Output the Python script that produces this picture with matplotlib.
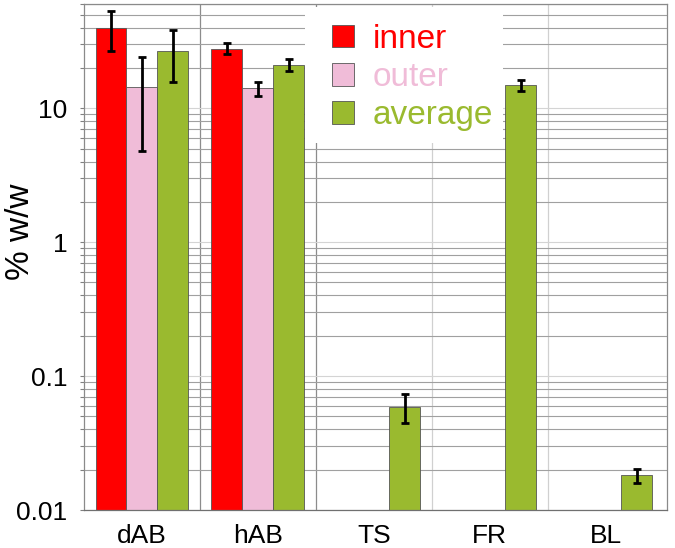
import numpy as np
import matplotlib
matplotlib.use('Agg')
import matplotlib.pyplot as plt
from matplotlib.patches import Rectangle
from matplotlib.ticker import LogLocator, FixedLocator, NullFormatter, FixedFormatter

# values (% w/w, log axis)
categories = ['dAB', 'hAB', 'TS', 'FR', 'BL']

inner = [39.8, 27.9, np.nan, np.nan, np.nan]
inner_lo = [26.6, 25.3, np.nan, np.nan, np.nan]
inner_hi = [53.5, 30.8, np.nan, np.nan, np.nan]

outer = [14.4, 14.1, np.nan, np.nan, np.nan]
outer_lo = [4.8, 12.4, np.nan, np.nan, np.nan]
outer_hi = [24.3, 15.7, np.nan, np.nan, np.nan]

average = [26.9, 21.0, 0.059, 14.8, 0.0181]
average_lo = [15.7, 18.8, 0.0448, 13.5, 0.0158]
average_hi = [38.7, 23.2, 0.0738, 16.3, 0.0201]

yticks = [0.01, 0.1, 1, 10]
ytick_labels = ['0.01', '0.1', '1', '10']

plt.rcParams['font.family'] = ['Liberation Sans', 'DejaVu Sans']

fig = plt.figure(figsize=(6.75, 5.48), dpi=100)
ax = fig.add_axes([84 / 675, 1 - 510 / 548, (667 - 84) / 675, (510 - 4) / 548])
ax.set_yscale('log')
ax.set_axisbelow(True)

x = np.arange(len(categories))
w = 0.267
series = [
    ('inner', inner, inner_lo, inner_hi, '#ff0000', -w),
    ('outer', outer, outer_lo, outer_hi, '#f0bcd8', 0.0),
    ('average', average, average_lo, average_hi, '#9aba2f', w),
]

handles = []
for name, vals, lo, hi, col, off in series:
    vals = np.array(vals)
    lo = np.array(lo)
    hi = np.array(hi)
    m = ~np.isnan(vals)
    b = ax.bar(x[m] + off, vals[m], width=w, color=col, edgecolor='#555555',
               linewidth=0.6, label=name, zorder=2)
    yerr = np.vstack([vals[m] - lo[m], hi[m] - vals[m]])
    ax.errorbar(x[m] + off, vals[m], yerr=yerr, fmt='none', ecolor='black',
                elinewidth=2.0, capsize=3, capthick=2.0, zorder=3)
    handles.append(b)

ax.set_ylim(0.01, 60)
ax.set_xlim(-0.5, 4.53)

# horizontal grid
ax.yaxis.set_major_locator(FixedLocator(yticks))
ax.yaxis.set_major_formatter(FixedFormatter(ytick_labels))
ax.yaxis.set_minor_locator(LogLocator(base=10, subs=np.arange(2, 10)))
ax.yaxis.set_minor_formatter(NullFormatter())
ax.grid(which='major', axis='y', color='#d4d4d4', linewidth=0.8, zorder=0)
ax.grid(which='minor', axis='y', color='#a0a0a0', linewidth=0.8, zorder=0)

# vertical separators between categories
sep_colors = ['#8c8c8c', '#8c8c8c', '#d0d0d0', '#d0d0d0']
for i, c in enumerate(sep_colors):
    ax.axvline(i + 0.5, color=c, linewidth=0.9, zorder=0)

ax.set_xticks(x)
ax.set_xticklabels(categories)
ax.tick_params(axis='x', length=0, pad=10, labelsize=19)
ax.tick_params(axis='y', which='both', length=3, width=0.8, color='#808080',
               pad=9, labelsize=19)

for s in ax.spines.values():
    s.set_color('#8a8a8a')
    s.set_linewidth(0.9)
ax.spines['bottom'].set_color('#707070')

ax.set_ylabel('% w/w', fontsize=24)
ax.yaxis.set_label_coords(-0.083, 0.549)

# white box behind the legend, hiding the grid
fig.add_artist(Rectangle((305 / 675, 1 - 143 / 548), 198 / 675, 136 / 548,
                         transform=fig.transFigure, facecolor='white',
                         edgecolor='none', zorder=3))

leg = fig.legend(handles=handles, labels=['inner', 'outer', 'average'],
                 loc='upper left', bbox_to_anchor=(315 / 675, 1 - 7 / 548),
                 bbox_transform=fig.transFigure, fontsize=24, frameon=False,
                 borderpad=0.5, borderaxespad=0,
                 handlelength=0.67, handleheight=0.67, handletextpad=0.55,
                 labelspacing=0.22)
leg.set_zorder(4)
for txt, (_, _, _, _, col, _) in zip(leg.get_texts(), series):
    txt.set_color(col)

fig.savefig('out.png', dpi=100)
